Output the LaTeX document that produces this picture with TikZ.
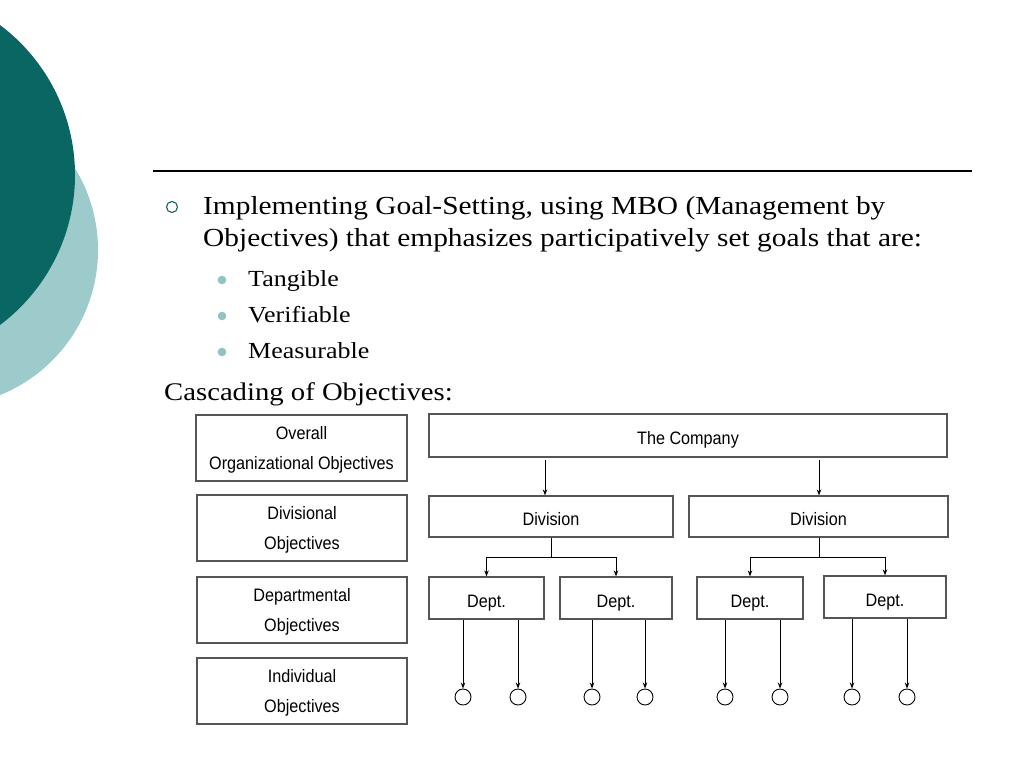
\documentclass[tikz,border=0pt]{standalone}
\usepackage{fontspec}
\setmainfont{Liberation Serif}
\newfontfamily\wideserif[FakeStretch=1.13]{Liberation Serif}
\newfontfamily\narrowsans[FakeStretch=0.9]{Liberation Sans}
\usetikzlibrary{arrows.meta}
\newcommand\tallstrut{\rule{0pt}{17.5pt}}
\definecolor{darkteal}{HTML}{0A6662}
\definecolor{lightteal}{HTML}{9DCBCC}
\definecolor{dotteal}{HTML}{92C4C5}
\definecolor{boxgray}{HTML}{555555}
\tikzset{
  bodytext/.style={anchor=base west, inner sep=0pt, font=\wideserif\fontsize{26}{30}\selectfont},
  subtext/.style={anchor=base west, inner sep=0pt, font=\wideserif\fontsize{23}{27}\selectfont},
  levelbox/.style={draw=boxgray, line width=1.2pt, minimum width=210pt, minimum height=66pt, inner sep=0pt, align=center, font=\narrowsans\fontsize{18}{30}\selectfont},
  unitbox/.style={draw=boxgray, line width=1.2pt, minimum height=42pt, inner sep=0pt, text height=22pt, text depth=4pt, font=\narrowsans\fontsize{18}{22}\selectfont},
  person/.style={draw=black, circle, line width=0.9pt, minimum size=16pt, inner sep=0pt},
  link/.style={draw=black, line width=1pt},
  arr/.style={link, -{Stealth[length=6pt,width=4.5pt]}},
}
\begin{document}
\begin{tikzpicture}[x=1pt,y=-1pt]
\useasboundingbox (0,0) rectangle (1024,768);
% decorative circles
\begin{scope}
\clip (0,0) rectangle (1024,768);
\fill[lightteal] (-58.3,250) circle (156.3pt);
\fill[darkteal] (-112.5,175) circle (187.5pt);
\end{scope}
% rule
\draw[line width=1.2pt] (153,171) -- (972,171);
% bullets
\draw[darkteal!80!black, line width=1pt] (172,207) circle (5.5pt);
\fill[dotteal] (222,280) circle (4.3pt);
\fill[dotteal] (222,316) circle (4.3pt);
\fill[dotteal] (222,352) circle (4.3pt);
% text
\node[bodytext] (l1) at (203,214) {Implementing Goal-Setting, using MBO (Management by};
\node[bodytext] (l2) at (203,246) {Objectives) that emphasizes participatively set goals that are:};
\node[subtext] (s1) at (248,286) {Tangible};
\node[subtext] (s2) at (248,322) {Verifiable};
\node[subtext] (s3) at (248,358) {Measurable};
\node[bodytext, font=\wideserif\fontsize{25.4}{30}\selectfont] (casc) at (164,400) {Cascading of Objectives:};
% level boxes
\node[levelbox, minimum width=211pt] (o1) at (301.5,448) {\tallstrut Overall\\Organizational Objectives};
\node[levelbox] (o2) at (302,528) {\tallstrut Divisional\\Objectives};
\node[levelbox] (o3) at (302,610) {\tallstrut Departmental\\Objectives};
\node[levelbox] (o4) at (302,691) {\tallstrut Individual\\Objectives};
% org chart
\node[unitbox, minimum width=518pt, minimum height=43pt] (comp) at (688,435.5) {The Company};
\node[unitbox, minimum width=244pt, minimum height=41pt] (div1) at (551,516.5) {Division};
\node[unitbox, minimum width=259pt, minimum height=41pt] (div2) at (818.5,516.5) {Division};
\node[unitbox, minimum width=115pt] (d1) at (486.5,598) {Dept.};
\node[unitbox, minimum width=112pt] (d2) at (616,598) {Dept.};
\node[unitbox, minimum width=106pt] (d3) at (750,598) {Dept.};
\node[unitbox, minimum width=122pt] (d4) at (885,597) {Dept.};
% company to divisions
\coordinate (a1) at (545,460);
\coordinate (a2) at (819,460);
\draw[arr] (a1) -- (a1 |- div1.north);
\draw[arr] (a2) -- (a2 |- div2.north);
% divisions to departments
\coordinate (bus1) at (551,557);
\coordinate (bus2) at (819,557);
\draw[link] (div1.south) -- (bus1);
\draw[arr] (bus1) -| (d1.north);
\draw[arr] (bus1) -| (d2.north);
\draw[link] (div2.south -| bus2) -- (bus2);
\draw[arr] (bus2) -| (d3.north);
\draw[arr] (bus2) -| (d4.north);
% individuals
\node[person] (p1) at (463,697) {};
\node[person] (p2) at (518,697) {};
\node[person] (p3) at (592,697) {};
\node[person] (p4) at (645,697) {};
\node[person] (p5) at (725,697) {};
\node[person] (p6) at (780,697) {};
\node[person] (p7) at (852,697) {};
\node[person] (p8) at (907,697) {};
\draw[arr] (d1.south -| p1) -- (p1.north);
\draw[arr] (d1.south -| p2) -- (p2.north);
\draw[arr] (d2.south -| p3) -- (p3.north);
\draw[arr] (d2.south -| p4) -- (p4.north);
\draw[arr] (d3.south -| p5) -- (p5.north);
\draw[arr] (d3.south -| p6) -- (p6.north);
\draw[arr] (d4.south -| p7) -- (p7.north);
\draw[arr] (d4.south -| p8) -- (p8.north);
\end{tikzpicture}
\end{document}
